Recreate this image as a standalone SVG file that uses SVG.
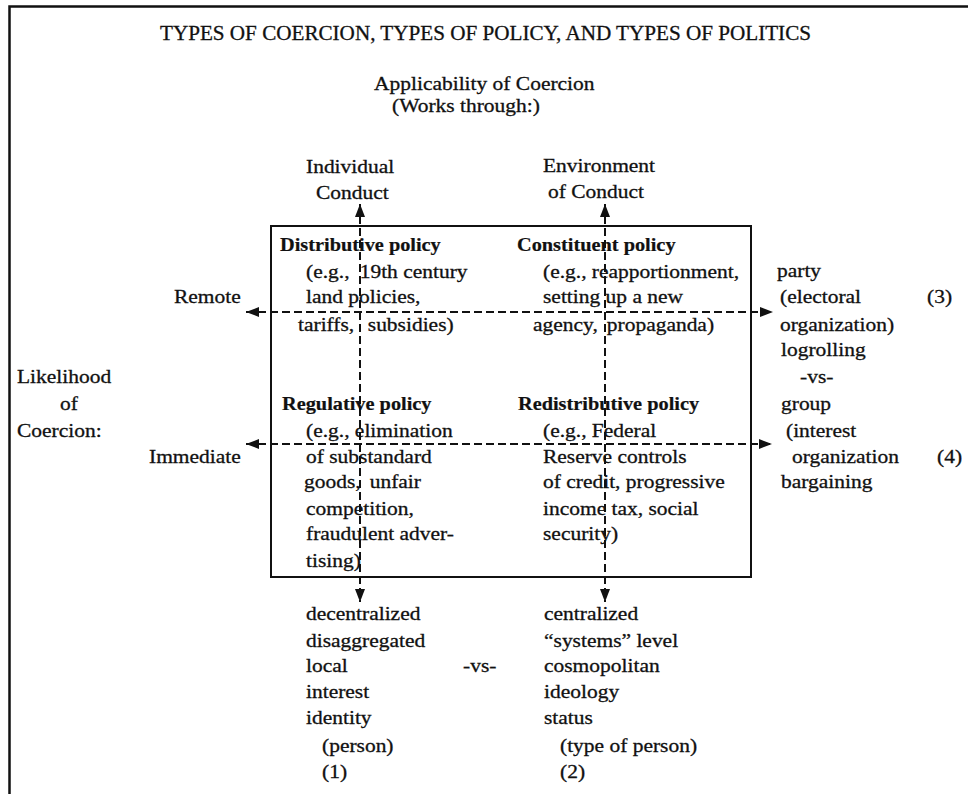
<svg xmlns="http://www.w3.org/2000/svg" width="968" height="794" viewBox="0 0 968 794">
<style>
text{font-family:"Liberation Serif","Times New Roman",serif;font-size:19px;fill:#111;stroke:#111;stroke-width:0.3}
.b{font-weight:bold;stroke-width:0.2}
.tt{font-size:20px}
.frame{stroke:#111;stroke-width:2.5;fill:none}
.box{stroke:#111;stroke-width:2;fill:none}
.axis{stroke:#111;stroke-width:2;fill:none;stroke-dasharray:8 4;marker-start:url(#ah);marker-end:url(#ah)}
</style>
<defs>
<marker id="ah" markerUnits="userSpaceOnUse" markerWidth="14" markerHeight="11" refX="13" refY="5" orient="auto-start-reverse">
<path d="M0,0 L13,5 L0,10 z" fill="#111"/>
</marker>
</defs>
<rect width="968" height="794" fill="#fff"/>
<path class="frame" d="M9.5,794 V6.5 H968"/>

<g id="title">
<text class="tt" x="160" y="40" textLength="651" lengthAdjust="spacingAndGlyphs">TYPES OF COERCION, TYPES OF POLICY, AND TYPES OF POLITICS</text>
</g>
<g id="applicability">
<text transform="translate(374 90) scale(1.13 1)">Applicability of Coercion</text>
<text transform="translate(392 112) scale(1.13 1)">(Works through:)</text>
</g>
<g id="individual">
<text transform="translate(306 173) scale(1.13 1)">Individual</text>
<text transform="translate(316 199) scale(1.13 1)">Conduct</text>
</g>
<g id="environment">
<text transform="translate(543 172) scale(1.13 1)">Environment</text>
<text transform="translate(548 198) scale(1.13 1)">of Conduct</text>
</g>
<g id="likelihood">
<text transform="translate(17 383) scale(1.13 1)">Likelihood</text>
<text transform="translate(60 410) scale(1.13 1)">of</text>
<text transform="translate(17 437) scale(1.13 1)">Coercion:</text>
</g>
<g id="remote"><text transform="translate(174 303) scale(1.13 1)">Remote</text></g>
<g id="immediate"><text transform="translate(149 463) scale(1.13 1)">Immediate</text></g>

<g id="matrix"><rect class="box" x="271" y="226" width="480" height="351"/></g>

<g id="distributive">
<text class="b" transform="translate(280 251) scale(1.07 1)">Distributive policy</text>
<text transform="translate(306 278) scale(1.13 1)">(e.g.,<tspan dx="9">19th century</tspan></text>
<text transform="translate(306 303) scale(1.13 1)">land policies,</text>
<text transform="translate(298 331) scale(1.13 1)">tariffs,<tspan dx="12">subsidies)</tspan></text>
</g>
<g id="constituent">
<text class="b" transform="translate(517 251) scale(1.07 1)">Constituent policy</text>
<text transform="translate(543 278) scale(1.13 1)">(e.g., reapportionment,</text>
<text transform="translate(543 303) scale(1.13 1)">setting up a new</text>
<text transform="translate(533 331) scale(1.13 1)">agency,<tspan dx="8">propaganda)</tspan></text>
</g>
<g id="regulative">
<text class="b" transform="translate(282 410) scale(1.07 1)">Regulative policy</text>
<text transform="translate(306 437) scale(1.13 1)">(e.g., elimination</text>
<text transform="translate(306 463) scale(1.13 1)">of substandard</text>
<text transform="translate(304 488) scale(1.13 1)">goods,<tspan dx="8">unfair</tspan></text>
<text transform="translate(306 515) scale(1.13 1)">competition,</text>
<text transform="translate(306 540) scale(1.13 1)">fraudulent adver-</text>
<text transform="translate(306 567) scale(1.13 1)">tising)</text>
</g>
<g id="redistributive">
<text class="b" transform="translate(518 410) scale(1.07 1)">Redistributive policy</text>
<text transform="translate(543 437) scale(1.13 1)">(e.g., Federal</text>
<text transform="translate(543 463) scale(1.13 1)">Reserve controls</text>
<text transform="translate(543 488) scale(1.13 1)">of credit, progressive</text>
<text transform="translate(543 515) scale(1.13 1)">income tax, social</text>
<text transform="translate(543 540) scale(1.13 1)">security)</text>
</g>

<g id="party">
<text transform="translate(777 277) scale(1.13 1)">party</text>
<text transform="translate(780 303) scale(1.13 1)">(electoral</text>
<text transform="translate(780 331) scale(1.13 1)">organization)</text>
<text transform="translate(927 303) scale(1.13 1)">(3)</text>
</g>
<g id="logrolling-vs"><text transform="translate(781 356) scale(1.13 1)">logrolling</text>
<text transform="translate(800 383) scale(1.13 1)" font-size="16">-vs-</text></g>
<g id="group">
<text transform="translate(781 410) scale(1.13 1)">group</text>
<text transform="translate(786 437) scale(1.13 1)">(interest</text>
<text transform="translate(792 463) scale(1.13 1)">organization</text>
<text transform="translate(781 488) scale(1.13 1)">bargaining</text>
<text transform="translate(937 463) scale(1.13 1)">(4)</text>
</g>

<g id="decentralized">
<text transform="translate(306 620) scale(1.13 1)">decentralized</text>
<text transform="translate(306 647) scale(1.13 1)">disaggregated</text>
<text transform="translate(306 672) scale(1.13 1)">local</text>
<text transform="translate(306 698) scale(1.13 1)">interest</text>
<text transform="translate(306 724) scale(1.13 1)">identity</text>
<text transform="translate(322 752) scale(1.13 1)">(person)</text>
<text transform="translate(322 778) scale(1.13 1)">(1)</text>
</g>
<g id="bottom-vs"><text transform="translate(463 672) scale(1.13 1)" font-size="16">-vs-</text></g>
<g id="centralized">
<text transform="translate(544 620) scale(1.13 1)">centralized</text>
<text transform="translate(544 647) scale(1.13 1)">“systems” level</text>
<text transform="translate(544 672) scale(1.13 1)">cosmopolitan</text>
<text transform="translate(544 698) scale(1.13 1)">ideology</text>
<text transform="translate(544 724) scale(1.13 1)">status</text>
<text transform="translate(560 752) scale(1.13 1)">(type of person)</text>
<text transform="translate(560 778) scale(1.13 1)">(2)</text>
</g>

<g id="connectors">
<line class="axis" x1="360" y1="204" x2="360" y2="602"/>
<line class="axis" x1="605" y1="204" x2="605" y2="602"/>
<line class="axis" x1="246" y1="312" x2="773" y2="312"/>
<line class="axis" x1="246" y1="444" x2="772" y2="444"/>
</g>
</svg>
